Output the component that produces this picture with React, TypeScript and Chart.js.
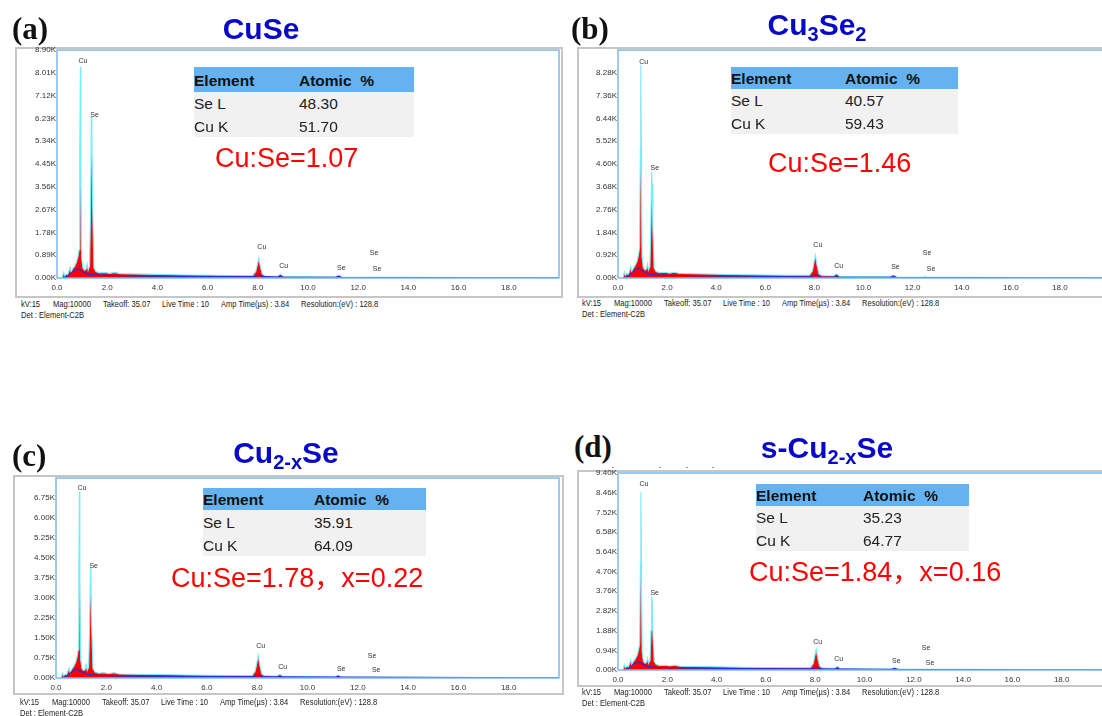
import React, { useEffect, useRef } from "react";
import { Chart, registerables } from "chart.js";

Chart.register(...registerables);

// ---------------- DATA ----------------
// energy grid (keV) shared by the four EDS spectra
const energyKeV = [
  0.2, 0.26, 0.3, 0.36, 0.42, 0.48, 0.52, 0.56, 0.62, 0.7,
  0.78, 0.84, 0.88, 0.91, 0.93, 0.95, 0.98, 1.03, 1.1, 1.16,
  1.2, 1.24, 1.3, 1.34, 1.37, 1.39, 1.42, 1.47, 1.55, 1.7,
  1.9, 2.1, 2.3, 2.5, 3.0, 4.0, 5.0, 6.0, 7.0, 7.8,
  7.92, 7.98, 8.04, 8.1, 8.18, 8.3, 8.8, 8.9, 9.0, 10.0,
  11.1, 11.22, 11.34, 12.4, 12.5, 12.6, 14.0, 16.0, 18.0, 20.0,
];

// counts in thousands (K)
const countsCuSe = [
  0.0, 0.22, 0.08, 0.15, 0.12, 0.28, 0.42, 0.22, 0.35, 0.45,
  0.62, 0.85, 1.1, 5.0, 8.24, 4.2, 0.8, 0.4, 0.3, 0.35,
  0.55, 0.3, 0.45, 3.0, 6.28, 5.6, 2.8, 0.4, 0.25, 0.2,
  0.22, 0.18, 0.22, 0.17, 0.16, 0.14, 0.12, 0.11, 0.1, 0.1,
  0.25, 0.5, 0.78, 0.45, 0.15, 0.08, 0.07, 0.13, 0.06, 0.05,
  0.04, 0.09, 0.04, 0.03, 0.04, 0.03, 0.03, 0.02, 0.02, 0.02,
];
const countsCu3Se2 = [
  0.0, 0.25, 0.1, 0.18, 0.14, 0.3, 0.45, 0.25, 0.38, 0.5,
  0.68, 0.95, 1.25, 5.2, 8.6, 4.4, 0.85, 0.42, 0.32, 0.36,
  0.58, 0.32, 0.45, 2.2, 4.28, 3.8, 2.0, 0.4, 0.26, 0.21,
  0.23, 0.19, 0.23, 0.18, 0.17, 0.15, 0.13, 0.12, 0.11, 0.11,
  0.28, 0.6, 0.93, 0.55, 0.17, 0.09, 0.08, 0.15, 0.07, 0.05,
  0.05, 0.1, 0.04, 0.03, 0.05, 0.03, 0.03, 0.02, 0.02, 0.02,
];
const countsCu2xSe = [
  0.0, 0.2, 0.08, 0.14, 0.12, 0.26, 0.38, 0.2, 0.32, 0.42,
  0.58, 0.8, 1.05, 4.2, 6.98, 3.6, 0.7, 0.36, 0.28, 0.32,
  0.5, 0.28, 0.4, 2.1, 4.12, 3.6, 1.9, 0.36, 0.22, 0.18,
  0.2, 0.16, 0.2, 0.15, 0.14, 0.13, 0.11, 0.1, 0.09, 0.09,
  0.25, 0.52, 0.86, 0.5, 0.15, 0.08, 0.07, 0.13, 0.06, 0.05,
  0.04, 0.09, 0.04, 0.03, 0.04, 0.03, 0.03, 0.02, 0.02, 0.02,
];
const countsSCu2xSe = [
  0.0, 0.26, 0.1, 0.18, 0.14, 0.32, 0.48, 0.26, 0.4, 0.52,
  0.7, 0.98, 1.28, 5.1, 8.48, 4.3, 0.85, 0.42, 0.32, 0.36,
  0.56, 0.32, 0.45, 1.9, 3.52, 3.1, 1.6, 0.4, 0.26, 0.21,
  0.23, 0.19, 0.23, 0.18, 0.17, 0.15, 0.13, 0.12, 0.11, 0.11,
  0.3, 0.64, 1.0, 0.58, 0.18, 0.09, 0.08, 0.16, 0.07, 0.05,
  0.05, 0.1, 0.04, 0.03, 0.05, 0.03, 0.03, 0.02, 0.02, 0.02,
];

// fitted background (blue line)
const bgEnergyKeV = [0.25, 0.45, 0.65, 0.82, 1.0, 1.2, 1.5, 2.0, 3.0, 5.0, 7.9, 8.04, 8.2, 8.8, 8.9, 9.0, 11.1, 11.22, 11.34, 14.0, 20.0];
const bgCuSe = [0, 0.1, 0.26, 0.36, 0.26, 0.16, 0.12, 0.1, 0.08, 0.06, 0.05, 0.12, 0.05, 0.04, 0.1, 0.04, 0.03, 0.07, 0.03, 0.02, 0.01];
const bgCu3Se2 = [0, 0.11, 0.28, 0.4, 0.28, 0.17, 0.13, 0.11, 0.09, 0.07, 0.05, 0.13, 0.05, 0.04, 0.11, 0.04, 0.03, 0.08, 0.03, 0.02, 0.01];
const bgCu2xSe = [0, 0.09, 0.24, 0.34, 0.24, 0.15, 0.11, 0.09, 0.07, 0.06, 0.05, 0.11, 0.05, 0.04, 0.09, 0.04, 0.03, 0.07, 0.03, 0.02, 0.01];
const bgSCu2xSe = [0, 0.11, 0.28, 0.4, 0.28, 0.17, 0.13, 0.11, 0.09, 0.07, 0.05, 0.13, 0.05, 0.04, 0.11, 0.04, 0.03, 0.08, 0.03, 0.02, 0.01];

// peak labels
const peakLabels = ["Cu", "Se", "Cu", "Cu", "Se", "Se", "Se"];
const labelEnergyCuSe = [1.03, 1.5, 8.16, 9.03, 11.33, 12.63, 12.75];
const labelCountCuSe = [8.47, 6.36, 1.21, 0.47, 0.39, 0.98, 0.35];
const labelEnergyCu3Se2 = [1.05, 1.5, 8.14, 8.99, 11.3, 12.59, 12.75];
const labelCountCu3Se2 = [8.72, 4.44, 1.33, 0.48, 0.44, 1.01, 0.36];
const labelEnergyCu2xSe = [1.03, 1.5, 8.14, 9.01, 11.34, 12.57, 12.73];
const labelCountCu2xSe = [7.12, 4.2, 1.2, 0.41, 0.34, 0.82, 0.3];
const labelEnergySCu2xSe = [1.05, 1.49, 8.1, 8.95, 11.29, 12.5, 12.66];
const labelCountSCu2xSe = [8.86, 3.67, 1.33, 0.52, 0.43, 1.05, 0.33];

// y tick labels (K counts)
const yTicksCuSe = [0, 0.89, 1.78, 2.67, 3.56, 4.45, 5.34, 6.23, 7.12, 8.01, 8.9];
const yTicksCu3Se2 = [0, 0.92, 1.84, 2.76, 3.68, 4.6, 5.52, 6.44, 7.36, 8.28];
const yTicksCu2xSe = [0, 0.75, 1.5, 2.25, 3.0, 3.75, 4.5, 5.25, 6.0, 6.75];
const yTicksSCu2xSe = [0, 0.94, 1.88, 2.82, 3.76, 4.7, 5.64, 6.58, 7.52, 8.46, 9.4];
const yMaxCuSe = 8.9;
const yMaxCu3Se2 = 9.2;
const yMaxCu2xSe = 7.5;
const yMaxSCu2xSe = 9.4;

// x axis
const xMinKeV = 0;
const xMaxKeV = 20;
const xStepKeV = 2;

// tables
const tableElements = ["Se L", "Cu K"];
const atomicCuSe = ["48.30", "51.70"];
const atomicCu3Se2 = ["40.57", "59.43"];
const atomicCu2xSe = ["35.91", "64.09"];
const atomicSCu2xSe = ["35.23", "64.77"];
const ratioCuSe = "Cu:Se=1.07";
const ratioCu3Se2 = "Cu:Se=1.46";
const ratioCu2xSe = "Cu:Se=1.78，x=0.22";
const ratioSCu2xSe = "Cu:Se=1.84，x=0.16";

const infoSegments = ["kV:15", "Mag:10000", "Takeoff: 35.07", "Live Time : 10", "Amp Time(µs) : 3.84", "Resolution:(eV) : 128.8"];
const infoDet = "Det : Element-C2B";

// ---------------- LAYOUT ----------------
const SANS = "'Liberation Sans', Arial, 'Noto Sans CJK SC', sans-serif";
const SERIF = "'Liberation Serif', 'Times New Roman', serif";
const Y_AXIS_W = 46;
const X_AXIS_H = 20;
const PAD_TOP = 7;
const PAD_RIGHT = 2;

type Box = { l: number; t: number; r: number; b: number };

type PanelSpec = {
  letter: string;
  letterX: number;
  letterBase: number;
  title: React.ReactNode;
  titleCx: number;
  titleBase: number;
  frame: Box;
  plot: Box;
  counts: number[];
  bg: number[];
  labelE: number[];
  labelK: number[];
  yTicks: number[];
  yMax: number;
  table: { l: number; t: number; w: number; hh: number; rh: number; col2: number };
  atomic: string[];
  ratio: string;
  ratioX: number;
  ratioBase: number;
  infoX: number;
  infoY: number;
};

const sub = (s: string) => (
  <span style={{ fontSize: 20, position: "relative", top: 6 }}>{s}</span>
);

const panels: PanelSpec[] = [
  {
    letter: "(a)", letterX: 12, letterBase: 39,
    title: <>CuSe</>, titleCx: 261, titleBase: 39,
    frame: { l: 15, t: 47, r: 563, b: 298 },
    plot: { l: 57, t: 50, r: 562, b: 278 },
    counts: countsCuSe, bg: bgCuSe, labelE: labelEnergyCuSe, labelK: labelCountCuSe,
    yTicks: yTicksCuSe, yMax: yMaxCuSe,
    table: { l: 194, t: 67, w: 220, hh: 25, rh: 22.5, col2: 105 },
    atomic: atomicCuSe, ratio: ratioCuSe, ratioX: 215, ratioBase: 168,
    infoX: 21, infoY: 305,
  },
  {
    letter: "(b)", letterX: 571, letterBase: 39,
    title: <>Cu{sub("3")}Se{sub("2")}</>, titleCx: 817, titleBase: 35,
    frame: { l: 577, t: 47, r: 1130, b: 298 },
    plot: { l: 618, t: 50, r: 1112, b: 278 },
    counts: countsCu3Se2, bg: bgCu3Se2, labelE: labelEnergyCu3Se2, labelK: labelCountCu3Se2,
    yTicks: yTicksCu3Se2, yMax: yMaxCu3Se2,
    table: { l: 731, t: 67, w: 227, hh: 22, rh: 22.5, col2: 114 },
    atomic: atomicCu3Se2, ratio: ratioCu3Se2, ratioX: 768, ratioBase: 173,
    infoX: 582, infoY: 304,
  },
  {
    letter: "(c)", letterX: 12, letterBase: 466,
    title: <>Cu{sub("2-x")}Se</>, titleCx: 286, titleBase: 463,
    frame: { l: 13, t: 475, r: 564, b: 695 },
    plot: { l: 56, t: 478, r: 562, b: 678 },
    counts: countsCu2xSe, bg: bgCu2xSe, labelE: labelEnergyCu2xSe, labelK: labelCountCu2xSe,
    yTicks: yTicksCu2xSe, yMax: yMaxCu2xSe,
    table: { l: 203, t: 488, w: 223, hh: 22, rh: 23, col2: 111 },
    atomic: atomicCu2xSe, ratio: ratioCu2xSe, ratioX: 171, ratioBase: 588,
    infoX: 20, infoY: 703,
  },
  {
    letter: "(d)", letterX: 574, letterBase: 457,
    title: <>s-Cu{sub("2-x")}Se</>, titleCx: 827, titleBase: 458,
    frame: { l: 577, t: 470, r: 1130, b: 687 },
    plot: { l: 618, t: 473, r: 1114, b: 670 },
    counts: countsSCu2xSe, bg: bgSCu2xSe, labelE: labelEnergySCu2xSe, labelK: labelCountSCu2xSe,
    yTicks: yTicksSCu2xSe, yMax: yMaxSCu2xSe,
    table: { l: 756, t: 484, w: 213, hh: 22, rh: 22.5, col2: 107 },
    atomic: atomicSCu2xSe, ratio: ratioSCu2xSe, ratioX: 749, ratioBase: 582,
    infoX: 582, infoY: 693,
  },
];

const infoOffsets = [0, 32, 82, 141, 200, 280];

// ---------------- COMPONENTS ----------------
const decorPlugin = {
  id: "decor",
  afterDatasetsDraw(chart: any, _args: any, opts: any) {
    const { ctx, chartArea: a, scales } = chart;
    ctx.save();
    ctx.strokeStyle = "#7dbbea";
    ctx.lineWidth = 1.5;
    ctx.strokeRect(a.left, a.top, a.right - a.left, a.bottom - a.top);
    ctx.font = `7px ${SANS}`;
    ctx.fillStyle = "#333";
    ctx.textAlign = "center";
    ctx.textBaseline = "middle";
    (opts.texts as string[]).forEach((t, i) => {
      ctx.fillText(t, scales.x.getPixelForValue(opts.e[i]), scales.y.getPixelForValue(opts.k[i]));
    });
    ctx.restore();
  },
};

function Spectrum({ spec }: { spec: PanelSpec }) {
  const ref = useRef<HTMLCanvasElement>(null);
  const w = spec.plot.r - spec.plot.l + Y_AXIS_W + PAD_RIGHT;
  const h = spec.plot.b - spec.plot.t + PAD_TOP + X_AXIS_H;
  useEffect(() => {
    const tickFont = { size: 8, family: SANS };
    const chart = new Chart(ref.current as HTMLCanvasElement, {
      type: "line",
      data: {
        datasets: [
          {
            data: bgEnergyKeV.map((x, i) => ({ x, y: spec.bg[i] })),
            borderColor: "#2b2bd0",
            borderWidth: 1.2,
            pointRadius: 0,
            fill: false,
            tension: 0,
          },
          {
            data: energyKeV.map((x, i) => ({ x, y: spec.counts[i] })),
            borderColor: "#74eefc",
            borderWidth: 1.1,
            backgroundColor: "#ff0000",
            fill: "origin",
            pointRadius: 0,
            tension: 0,
          },
        ],
      },
      options: {
        animation: false,
        responsive: false,
        events: [],
        layout: { padding: { top: PAD_TOP, right: PAD_RIGHT, left: 0, bottom: 0 } },
        plugins: {
          legend: { display: false },
          tooltip: { enabled: false },
          decor: { texts: peakLabels, e: spec.labelE, k: spec.labelK },
        } as any,
        scales: {
          x: {
            type: "linear",
            min: xMinKeV,
            max: xMaxKeV,
            afterFit: (s: any) => {
              s.height = X_AXIS_H;
            },
            grid: { display: false, drawTicks: false },
            border: { display: false },
            ticks: {
              stepSize: xStepKeV,
              autoSkip: false,
              maxRotation: 0,
              padding: 5,
              color: "#333",
              font: tickFont,
              callback: (v: any) => (Number(v) < 19 ? Number(v).toFixed(1) : ""),
            },
          },
          y: {
            min: 0,
            max: spec.yMax,
            afterFit: (s: any) => {
              s.width = Y_AXIS_W;
            },
            afterBuildTicks: (s: any) => {
              s.ticks = spec.yTicks.map((v) => ({ value: v }));
            },
            grid: { display: false, drawTicks: false },
            border: { display: false },
            ticks: {
              padding: 1,
              color: "#333",
              font: tickFont,
              callback: (v: any) => Number(v).toFixed(2) + "K",
            },
          },
        },
      },
      plugins: [decorPlugin as any],
    });
    return () => chart.destroy();
  }, []);
  return (
    <canvas
      ref={ref}
      width={w}
      height={h}
      style={{
        position: "absolute",
        left: spec.plot.l - Y_AXIS_W,
        top: spec.plot.t - PAD_TOP,
        width: w,
        height: h,
      }}
    />
  );
}

function Txt(props: {
  x: number;
  base: number;
  size: number;
  family?: string;
  color?: string;
  bold?: boolean;
  center?: boolean;
  children: React.ReactNode;
  scaleX?: number;
}) {
  const asc = props.family === SERIF ? 0.8375 : 0.8465;
  return (
    <div
      style={{
        position: "absolute",
        left: props.x,
        top: props.base - asc * props.size,
        fontSize: props.size,
        lineHeight: `${props.size}px`,
        fontFamily: props.family || SANS,
        fontWeight: props.bold ? 700 : 400,
        color: props.color || "#000",
        whiteSpace: "nowrap",
        transform: props.center
          ? "translateX(-50%)"
          : props.scaleX
          ? `scaleX(${props.scaleX})`
          : undefined,
        transformOrigin: "left center",
      }}
    >
      {props.children}
    </div>
  );
}

function Panel({ spec }: { spec: PanelSpec }) {
  const f = spec.frame;
  const tb = spec.table;
  return (
    <>
      <div
        style={{
          position: "absolute",
          left: f.l,
          top: f.t,
          width: f.r - f.l,
          height: f.b - f.t,
          border: "2px solid #c6c6c6",
          boxSizing: "border-box",
          background: "#fff",
        }}
      />
      <Spectrum spec={spec} />
      <Txt x={spec.letterX} base={spec.letterBase} size={31} family={SERIF} bold color="#111">
        {spec.letter}
      </Txt>
      <Txt x={spec.titleCx} base={spec.titleBase} size={30} bold center color="#0808c8">
        {spec.title}
      </Txt>
      {/* table */}
      <div
        style={{
          position: "absolute",
          left: tb.l,
          top: tb.t,
          width: tb.w,
          fontFamily: SANS,
          fontSize: 15.5,
          color: "#111",
        }}
      >
        <div
          style={{
            height: tb.hh,
            lineHeight: `${tb.hh + 2}px`,
            background: "#64b2ef",
            fontWeight: 700,
            position: "relative",
          }}
        >
          <span style={{ position: "absolute", left: 0 }}>Element</span>
          <span style={{ position: "absolute", left: tb.col2 }}>Atomic &nbsp;%</span>
        </div>
        {tableElements.map((el, i) => (
          <div
            key={el}
            style={{
              height: tb.rh,
              lineHeight: `${tb.rh + 2}px`,
              background: "#f1f1f1",
              position: "relative",
              color: "#222",
            }}
          >
            <span style={{ position: "absolute", left: 0 }}>{el}</span>
            <span style={{ position: "absolute", left: tb.col2 }}>{spec.atomic[i]}</span>
          </div>
        ))}
      </div>
      <Txt x={spec.ratioX} base={spec.ratioBase} size={27} color="#ff0000">
        {spec.ratio}
      </Txt>
      {infoSegments.map((s, i) => (
        <Txt key={s} x={spec.infoX + infoOffsets[i]} base={spec.infoY + 3} size={9} color="#222" scaleX={0.84}>
          {s}
        </Txt>
      ))}
      <Txt x={spec.infoX} base={spec.infoY + 14} size={9} color="#222" scaleX={0.84}>
        {infoDet}
      </Txt>
    </>
  );
}

export default function App() {
  return (
    <div
      style={{
        position: "fixed",
        left: 0,
        top: 0,
        width: 1102,
        height: 716,
        overflow: "hidden",
        background: "#fff",
      }}
    >
      {panels.map((p) => (
        <Panel key={p.letter} spec={p} />
      ))}
      {[612, 659, 686, 712].map((x) => (
        <div key={x} style={{ position: "absolute", left: x, top: 467, width: 2, height: 1, background: "#999" }} />
      ))}
    </div>
  );
}
